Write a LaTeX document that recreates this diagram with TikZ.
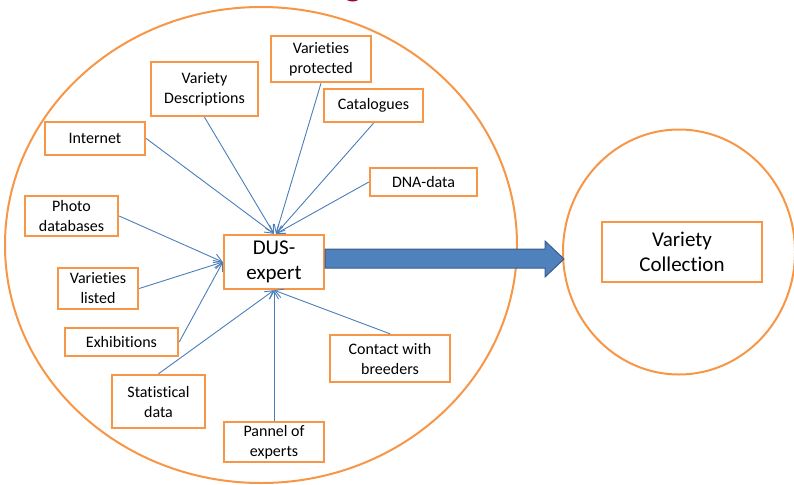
\documentclass[tikz,border=0pt]{standalone}
\usepackage{fontspec}
\setmainfont{Carlito}[RawFeature={-liga;-clig;-dlig}]
\usetikzlibrary{arrows.meta,calc}
\definecolor{boxorange}{HTML}{F79646}
\definecolor{linkblue}{HTML}{4A7EBB}
\definecolor{arrowfill}{HTML}{4F81BD}
\definecolor{arrowedge}{HTML}{385D8A}
\definecolor{titlered}{HTML}{A5002A}
\tikzset{
  srcbox/.style={draw=boxorange, line width=2.4pt, fill=white, inner sep=0pt, align=center,
    font=\fontsize{16}{20}\selectfont, text=black},
  bigbox/.style={srcbox, font=\fontsize{21}{25}\selectfont},
  link/.style={draw=linkblue, line width=0.9pt, -{Straight Barb[length=8pt,width=9pt,line width=0.9pt]}},
  ring/.style={draw=boxorange, line width=2pt}
}
\begin{document}
\begin{tikzpicture}[x=1pt,y=-1pt]
\useasboundingbox (0,0) rectangle (794,484);
\begin{scope}
\clip (0,0) rectangle (794,484);
\node[text=titlered, font=\fontsize{38}{40}\selectfont\bfseries, anchor=base] (title) at (354,-4) {g};
\draw[ring] (261,245) ellipse [x radius=256, y radius=238];
\draw[ring] (679,252) ellipse [x radius=116, y radius=122.5];
\end{scope}

\node[srcbox, minimum width=107pt, minimum height=54pt] (vdesc) at (204.5,89) {Variety\\Descriptions};
\node[srcbox, minimum width=100pt, minimum height=46pt] (vprot) at (321,59) {Varieties\\protected};
\node[srcbox, minimum width=99pt, minimum height=33pt] (catal) at (373.5,105.5) {Catalogues};
\node[srcbox, minimum width=100pt, minimum height=33pt] (internet) at (95,138.5) {Internet};
\node[srcbox, minimum width=93pt, minimum height=40pt] (photo) at (71.5,216) {Photo\\databases};
\node[srcbox, minimum width=107pt, minimum height=28pt] (dna) at (423.5,182) {DNA-data};
\node[bigbox, minimum width=100pt, minimum height=54pt] (dus) at (274,262) {DUS-\\expert};
\node[srcbox, minimum width=80pt, minimum height=41pt] (vlisted) at (98,288.5) {Varieties\\listed};
\node[srcbox, minimum width=113pt, minimum height=28pt] (exhib) at (121.5,342) {Exhibitions};
\node[srcbox, minimum width=93pt, minimum height=53pt] (stat) at (158.5,401.5) {Statistical\\data};
\node[srcbox, minimum width=100pt, minimum height=40pt] (pannel) at (274,442) {Pannel of\\experts};
\node[srcbox, minimum width=120pt, minimum height=47pt] (contact) at (390,358.5) {Contact with\\breeders};
\node[bigbox, minimum width=160pt, minimum height=60pt] (vcoll) at (682,252) {Variety\\Collection};

\draw[link] (internet.east) -- (dus.north);
\draw[link] (vdesc.south) -- (dus.north);
\draw[link] (vprot.south) -- ($(dus.north)+(2,0)$);
\draw[link] (catal.south) -- ($(dus.north)+(2,0)$);
\draw[link] (dna.west) -- ($(dus.north)+(2,0)$);
\draw[link] (photo.east) -- (dus.west);
\draw[link] (vlisted.east) -- (dus.west);
\draw[link] (exhib.east) -- (dus.west);
\draw[link] (stat.north) -- (dus.south);
\draw[link] (pannel.north) -- (dus.south);
\draw[link] (contact.north) -- (dus.south);

\coordinate (tip) at (564,259);
\draw[fill=arrowfill, draw=arrowedge, line width=1pt, line join=miter]
  (dus.east |- 0,249) -- (545,249) -- (545,241) -- (tip) -- (545,277) -- (545,268) -- (dus.east |- 0,268) -- cycle;
\end{tikzpicture}
\end{document}
